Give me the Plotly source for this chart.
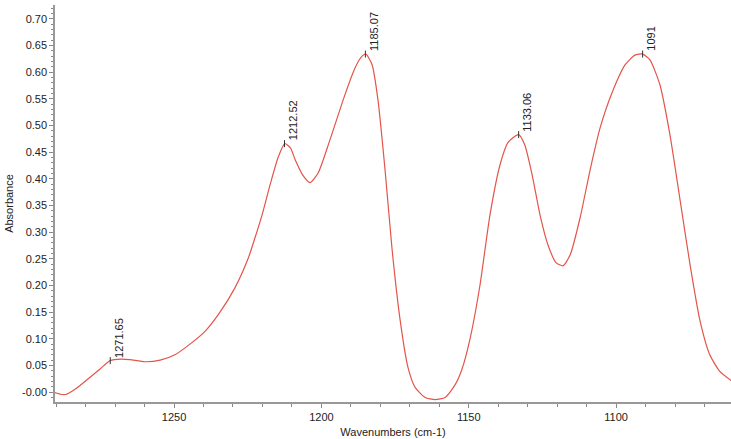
import plotly.graph_objects as go

# Spectrum
wavenumber = [1290.4, 1288.5, 1286.5, 1284.5, 1282.0, 1278.5, 1275.0, 1271.7, 1268.0, 1265.0, 1259.8,
              1254.7, 1249.7, 1244.6, 1239.5, 1234.4, 1229.3, 1224.9, 1222.5, 1220.1, 1217.4,
              1214.7, 1212.4, 1210.5, 1208.9, 1206.2, 1203.9, 1201.1, 1197.1, 1192.0, 1188.6,
              1186.2, 1184.9, 1182.8, 1180.8, 1178.4, 1176.0, 1173.3, 1170.6, 1168.2, 1164.8,
              1161.4, 1158.0, 1154.6, 1152.3, 1149.6, 1146.2, 1142.8, 1139.4, 1136.7, 1133.1,
              1131.0, 1128.5, 1125.8, 1123.1, 1120.4, 1118.0, 1115.6, 1112.2, 1108.8, 1105.4,
              1101.4, 1096.9, 1093.6, 1091.0, 1088.5, 1085.1, 1081.7, 1078.3, 1074.9, 1071.6,
              1068.2, 1064.8, 1061.0]
absorbance = [-0.001, -0.004, -0.004, 0.002, 0.012, 0.028, 0.044, 0.059, 0.062, 0.061, 0.057,
              0.060, 0.070, 0.090, 0.114, 0.150, 0.196, 0.250, 0.290, 0.333, 0.389,
              0.440, 0.466, 0.458, 0.436, 0.406, 0.393, 0.411, 0.473, 0.558, 0.608,
              0.630, 0.634, 0.614, 0.548, 0.417, 0.267, 0.136, 0.046, 0.009, -0.010,
              -0.014, -0.010, 0.014, 0.043, 0.099, 0.200, 0.332, 0.426, 0.468, 0.483,
              0.464, 0.408, 0.332, 0.276, 0.243, 0.237, 0.257, 0.327, 0.417, 0.496,
              0.561, 0.614, 0.632, 0.634, 0.623, 0.576, 0.482, 0.361, 0.239, 0.136,
              0.070, 0.039, 0.022]

# Peak labels
peak_wn = [1271.65, 1212.52, 1185.07, 1133.06, 1091.0]
peak_abs = [0.059, 0.466, 0.634, 0.483, 0.634]
peak_text = ["1271.65", "1212.52", "1185.07", "1133.06", "1091"]

# Axis ticks
y_ticks = [0.00, 0.05, 0.10, 0.15, 0.20, 0.25, 0.30, 0.35, 0.40, 0.45, 0.50, 0.55, 0.60, 0.65, 0.70]
y_ticktext = ["-0.00", "0.05", "0.10", "0.15", "0.20", "0.25", "0.30", "0.35", "0.40", "0.45",
              "0.50", "0.55", "0.60", "0.65", "0.70"]
x_ticks = [1250, 1200, 1150, 1100]

fig = go.Figure()
fig.add_trace(go.Scatter(x=wavenumber, y=absorbance, mode="lines",
                         line=dict(color="#e3554a", width=1.2, shape="spline", smoothing=0.6),
                         hoverinfo="skip", showlegend=False))
fig.add_trace(go.Scatter(x=peak_wn, y=peak_abs, mode="markers",
                         marker=dict(symbol="line-ns", size=5, line=dict(color="#333", width=1)),
                         hoverinfo="skip", showlegend=False))

for xv, yv, t in zip(peak_wn, peak_abs, peak_text):
    fig.add_annotation(x=xv, y=yv, text=t, textangle=-90, showarrow=False,
                       xanchor="left", yanchor="bottom", xshift=0, yshift=1,
                       font=dict(family="Liberation Sans, Arial", size=11, color="#222"))

fig.update_layout(
    width=731, height=439,
    margin=dict(l=55, r=0, t=5, b=37),
    plot_bgcolor="white", paper_bgcolor="white",
    font=dict(family="Liberation Sans, Arial", size=11, color="#222"),
    xaxis=dict(range=[1290.4, 1061.0], tickvals=x_ticks, ticks="outside", ticklen=4,
               tickcolor="#888", showline=True, linecolor="#999", linewidth=1.5,
               showgrid=False, zeroline=False, automargin=False,
               minor=dict(dtick=10, ticks="outside", ticklen=3, tickcolor="#888"),
               title=dict(text="Wavenumbers (cm-1)", standoff=6, font=dict(size=11))),
    yaxis=dict(range=[-0.0185, 0.726], tickvals=y_ticks, ticktext=y_ticktext,
               ticks="outside", ticklen=4, tickcolor="#888", showline=True,
               linecolor="#999", linewidth=1.5, showgrid=False, zeroline=False,
               automargin=False,
               minor=dict(dtick=0.01, tick0=0, ticks="outside", ticklen=2, tickcolor="#888"),
               title=dict(text="Absorbance", standoff=6, font=dict(size=11))),
)

fig.write_html("out.html", config={"displayModeBar": False},
               post_script="document.body.style.margin='0';document.body.style.overflow='hidden';")
